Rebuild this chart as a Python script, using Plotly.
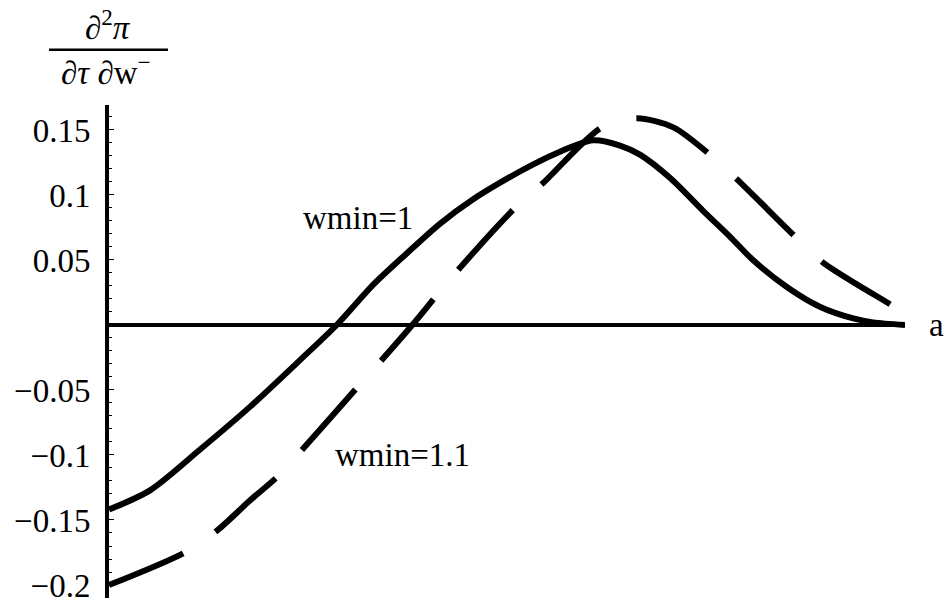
import plotly.graph_objects as go

# ===== data =====
a_solid = [0.0, 0.052, 0.114, 0.177, 0.240, 0.286, 0.332, 0.374, 0.416, 0.457,
           0.500, 0.533, 0.558, 0.608, 0.642, 0.667, 0.705, 0.746, 0.780, 0.809,
           0.852, 0.893, 0.935, 0.960, 1.0]
d_solid = [-0.142, -0.127, -0.096, -0.063, -0.027, 0.0, 0.031, 0.055, 0.078, 0.0965,
           0.1125, 0.1235, 0.131, 0.142, 0.138, 0.131, 0.113, 0.088, 0.068, 0.050,
           0.029, 0.014, 0.005, 0.002, 0.0]

a_dash = [0.0, 0.095, 0.136, 0.177, 0.211, 0.244, 0.312, 0.344, 0.381, 0.410, 0.441,
          0.510, 0.545, 0.619, 0.663, 0.709, 0.753, 0.789, 0.862, 0.897, 0.984, 1.0]
d_dash = [-0.2, -0.175, -0.158, -0.135, -0.117, -0.095, -0.048, -0.026, 0.0, 0.0215, 0.044,
          0.09, 0.109, 0.152, 0.159, 0.152, 0.132, 0.112, 0.068, 0.048, 0.015, 0.009]

ytick_vals = [0.15, 0.1, 0.05, -0.05, -0.1, -0.15, -0.2]
ytick_text = ["0.15", "0.1", "0.05", "\u22120.05", "\u22120.1", "\u22120.15", "\u22120.2"]

FONT = "Liberation Serif, Times New Roman, serif"

# ===== curves =====
solid = go.Scatter(
    x=a_solid, y=d_solid, mode="lines", name="wmin=1",
    line=dict(color="black", width=6, shape="spline", smoothing=0.8),
)
dashed = go.Scatter(
    x=a_dash, y=d_dash, mode="lines", name="wmin=1.1",
    line=dict(color="black", width=6, shape="spline", smoothing=0.8,
              dash="80.5px,38.8px"),
)

fig = go.Figure(data=[dashed, solid])

fig.update_layout(
    width=945, height=602,
    margin=dict(l=109, r=40, t=105, b=4),
    paper_bgcolor="white", plot_bgcolor="white",
    showlegend=False,
    font=dict(family=FONT, size=33, color="black"),
)

fig.update_xaxes(
    range=[0, 1], showgrid=False, zeroline=False, showline=False,
    showticklabels=False, ticks="", automargin=False,
)
fig.update_yaxes(
    range=[-0.21, 0.1692], showgrid=False, automargin=False,
    zeroline=True, zerolinecolor="black", zerolinewidth=4,
    showline=True, linecolor="black", linewidth=4,
    tickmode="array", tickvals=ytick_vals, ticktext=ytick_text,
    ticks="inside", ticklen=5, tickwidth=1, tickcolor="black",
    ticklabelstandoff=8, ticklabeloverflow="allow",
    tickfont=dict(family=FONT, size=33, color="black"),
    minor=dict(dtick=0.01, ticks="inside", ticklen=3, tickwidth=1, tickcolor="black"),
)

# ===== labels =====
ann = dict(showarrow=False, xanchor="center", yanchor="middle",
           font=dict(family=FONT, size=33, color="black"))
fig.add_annotation(x=0.313, y=0.082, xref="x", yref="y", text="wmin=1", **ann)
fig.add_annotation(x=0.369, y=-0.1, xref="x", yref="y", text="wmin=1.1", **ann)
# axis label past the end of the x axis
fig.add_annotation(x=1.0402, y=0.5538, xref="paper", yref="paper", text="a", **ann)

# y-axis title as a stacked fraction
fig.add_annotation(x=-0.001, y=1.162, xref="paper", yref="paper",
                   text="\u2202<sup>2</sup><i>\u03c0</i>", **ann)
fig.add_annotation(x=-0.004, y=1.071, xref="paper", yref="paper",
                   text="\u2202<i>\u03c4</i> \u2202w<sup>\u2212</sup>", **ann)
fig.add_shape(type="line", xref="paper", yref="paper",
              x0=-0.0754, x1=0.0741, y0=1.112, y1=1.112,
              line=dict(color="black", width=2.5))

# drop the default 8px page margin so the figure fills the window
fig.write_html("out.html", config={"displayModeBar": False},
               post_script="document.body.style.margin='0';")
